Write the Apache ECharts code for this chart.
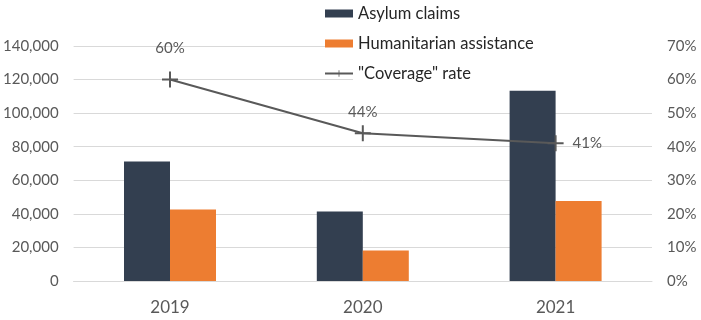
<!DOCTYPE html>
<html>
<head>
<meta charset="utf-8">
<script src="https://cdn.jsdelivr.net/npm/echarts@6/dist/echarts.min.js"></script>
<style>html,body{margin:0;padding:0;background:#fff}#c{width:701px;height:320px}</style>
</head>
<body>
<div id="c"></div>
<script>
const categories = ['2019', '2020', '2021'];
const asylumClaims = [71200, 41400, 113400];
const humanitarianAssistance = [42600, 18100, 47600];
const coverageRate = [0.60, 0.44, 0.41];
const leftTicks = { min: 0, max: 140000, interval: 20000 };
const rightTicks = { min: 0, max: 0.7, interval: 0.1 };

const FONT = 'Lato';
const chart = echarts.init(document.getElementById('c'), null, { renderer: 'canvas' });
chart.setOption({
  animation: false,
  backgroundColor: '#fff',
  textStyle: { fontFamily: FONT },
  grid: { left: 72, right: 49, top: 46, bottom: 39 },
  graphic: [{
    type: 'rect', z: 1, silent: true,
    shape: { x: 353, y: 0, width: 300, height: 92 },
    style: { fill: '#fff' }
  }],
  legend: {
    orient: 'vertical', left: 319, top: 0, z: 5,
    itemWidth: 28, itemHeight: 8, itemGap: 13,
    textStyle: { fontFamily: FONT, fontSize: 16.5, color: '#262626' },
    data: [
      { name: 'Asylum claims', icon: 'rect' },
      { name: 'Humanitarian assistance', icon: 'rect' },
      { name: '"Coverage" rate' }
    ]
  },
  xAxis: {
    type: 'category', data: categories,
    axisLine: { show: true, lineStyle: { color: '#d9d9d9', width: 1 } },
    axisTick: { show: false },
    axisLabel: { fontFamily: FONT, fontSize: 17, color: '#595959', margin: 18 }
  },
  yAxis: [{
    type: 'value', min: leftTicks.min, max: leftTicks.max, interval: leftTicks.interval,
    axisLine: { show: false }, axisTick: { show: false },
    splitLine: { lineStyle: { color: '#d9d9d9', width: 1 } },
    axisLabel: { fontFamily: FONT, fontSize: 15, color: '#595959', margin: 15,
      formatter: v => v.toLocaleString('en-US') }
  }, {
    type: 'value', min: rightTicks.min, max: rightTicks.max, interval: rightTicks.interval,
    axisLine: { show: false }, axisTick: { show: false },
    splitLine: { show: false },
    axisLabel: { fontFamily: FONT, fontSize: 15, color: '#595959', margin: 15,
      formatter: v => Math.round(v * 100) + '%' }
  }],
  series: [{
    name: 'Asylum claims', type: 'bar', data: asylumClaims,
    barWidth: 46, barGap: '0%',
    itemStyle: { color: '#333F50' }
  }, {
    name: 'Humanitarian assistance', type: 'bar', data: humanitarianAssistance,
    barWidth: 46, barGap: '0%',
    itemStyle: { color: '#ED7D31' }
  }, {
    name: '"Coverage" rate', type: 'line', yAxisIndex: 1, z: 6,
    data: coverageRate.map((v, i) => ({
      value: v,
      label: i === 2 ? { position: 'right', distance: 9 } : { position: 'top', distance: i === 0 ? 16 : 6 }
    })),
    symbol: 'path://M0,7h16v2h-16zM7,0h2v16h-2z', symbolSize: 16,
    lineStyle: { color: '#595959', width: 2 },
    itemStyle: { color: '#595959' },
    label: { show: true, fontFamily: FONT, fontSize: 15, color: '#595959',
      formatter: p => Math.round(p.value * 100) + '%' }
  }]
});
</script>
</body>
</html>
